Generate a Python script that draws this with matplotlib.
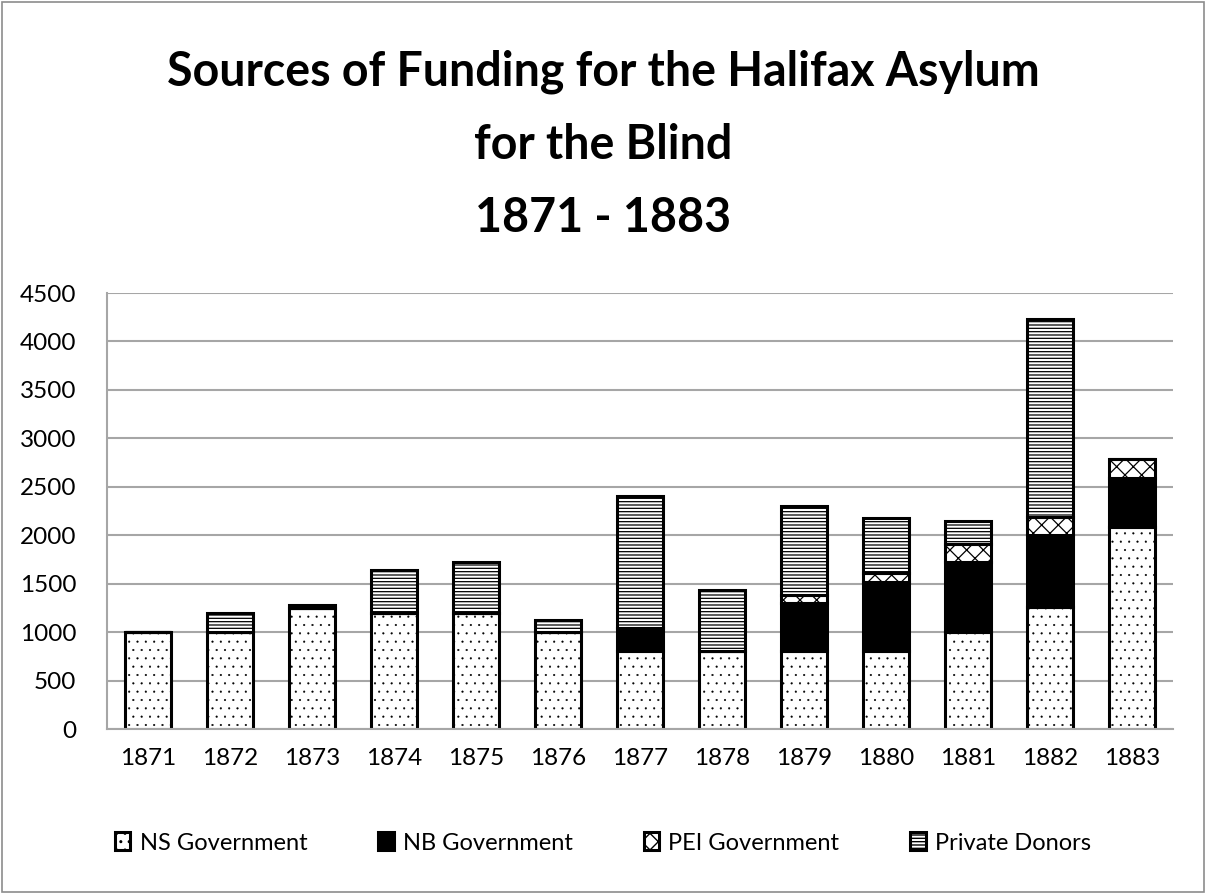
import numpy as np
import matplotlib.pyplot as plt
from matplotlib.patches import Rectangle

years = ['1871', '1872', '1873', '1874', '1875', '1876', '1877',
         '1878', '1879', '1880', '1881', '1882', '1883']
ns_gov = [1000, 1000, 1250, 1200, 1200, 1000, 800, 800, 800, 800, 1000, 1260, 2090]
nb_gov = [0, 0, 0, 0, 0, 0, 240, 0, 500, 720, 720, 740, 500]
pei_gov = [0, 0, 0, 0, 0, 0, 0, 0, 80, 90, 190, 190, 195]
private = [0, 200, 25, 440, 525, 125, 1360, 630, 925, 570, 235, 2040, 0]

# name, values, fill, hatch, hatch line width
series = [
    ('NS Government', ns_gov, 'white', '..', 0.3),
    ('NB Government', nb_gov, 'black', None, 0.8),
    ('PEI Government', pei_gov, 'white', 'xx', 0.9),
    ('Private Donors', private, 'white', '-----', 0.9),
]

plt.rcParams['font.family'] = ['Lato', 'DejaVu Sans']

fig = plt.figure(figsize=(12.06, 8.94), dpi=100)
ax = fig.add_axes([107 / 1206, 1 - 729 / 894, 1066 / 1206, 436 / 894])

x = np.arange(len(years))
bottom = np.zeros(len(years))
handles = []
for name, vals, color, hatch, hlw in series:
    vals = np.array(vals, dtype=float)
    with plt.rc_context({'hatch.linewidth': hlw}):
        bars = ax.bar(x, vals, bottom=bottom, width=0.57, color=color,
                      edgecolor='black', linewidth=2.2, hatch=hatch, label=name)
    handles.append(bars)
    bottom += vals

ax.set_xlim(-0.5, len(years) - 0.5)
ax.set_ylim(0, 4500)
ax.set_yticks(range(0, 4501, 500))
ax.set_xticks(x)
ax.set_xticklabels(years)
ax.tick_params(axis='both', length=0, labelsize=17.5)
ax.tick_params(axis='x', pad=14)
ax.tick_params(axis='y', pad=22)
ax.yaxis.grid(True, color='#a6a6a6', linewidth=1.5)
ax.set_axisbelow(True)
for s in ['top', 'right']:
    ax.spines[s].set_visible(False)
ax.spines['left'].set_color('#a6a6a6')
ax.spines['left'].set_linewidth(1.5)
ax.spines['bottom'].set_color('#a6a6a6')
ax.spines['bottom'].set_linewidth(1.5)

title_lines = ['Sources of Funding for the Halifax Asylum', 'for the Blind', '1871 - 1883']
for i, line in enumerate(title_lines):
    fig.text(0.5, 1 - (72 + 73 * i) / 894, line,
             ha='center', va='center', fontsize=33.5, fontweight='bold')

fig.legend(handles=handles, loc='center', bbox_to_anchor=(0.5, 1 - 843 / 894),
           ncol=4, frameon=False, fontsize=17, handlelength=0.65,
           handleheight=0.8, handletextpad=0.4, columnspacing=3.0)

fig.patches.append(Rectangle((0.002, 0.002), 0.996, 0.996, transform=fig.transFigure,
                             fill=False, edgecolor='#8c8c8c', linewidth=1.2))

fig.savefig('out.png', dpi=100)
